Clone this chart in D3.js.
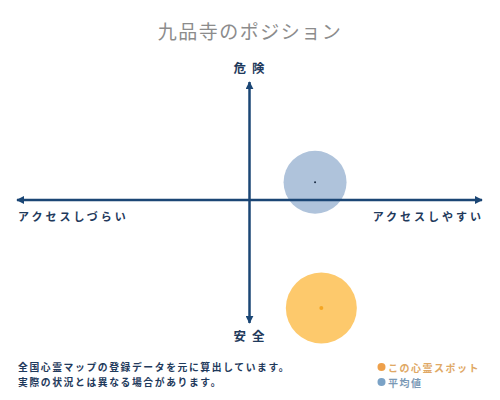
<!DOCTYPE html>
<html><head><meta charset="utf-8">
<script src="https://cdn.jsdelivr.net/npm/d3@7"></script>
<style>
html,body{margin:0;padding:0;background:#fff;}
svg{display:block;}
text{font-family:"Noto Sans CJK JP","Noto Sans",sans-serif;}
</style></head>
<body>
<script>
// ---- data ----
const title = "九品寺のポジション";
const axisLabels = {top:"危険", bottom:"安全", left:"アクセスしづらい", right:"アクセスしやすい"};
const seriesNames = ["この心霊スポット", "平均値"];
// access (x: -100 hard .. 100 easy), danger (y: -100 safe .. 100 dangerous)
const accessValues = [30.9, 28.2];
const dangerValues = [-90, 14.8];
const notes = ["全国心霊マップの登録データを元に算出しています。", "実際の状況とは異なる場合があります。"];

// ---- layout ----
const W = 500, H = 400;
const svg = d3.select("body").append("svg").attr("width", W).attr("height", H);
svg.append("rect").attr("width", W).attr("height", H).attr("fill", "#fff");

const cx = 249.5, cy = 200;
const x = d3.scaleLinear().domain([-100, 100]).range([cx - 232.5, cx + 232.5]);
const y = d3.scaleLinear().domain([-100, 100]).range([cy + 120, cy - 120]);

const navy = "#1b4675";
const fills = ["#fdc96c", "#afc3db"];
const dotFills = ["#f5a623", "#1b2c44"];
const radii = [35.5, 31.5];
const legendDot = ["#eea04a", "#7aa2c6"];
const legendText = ["#e0a865", "#7b99b6"];

// title
svg.append("text").attr("x", 250).attr("y", 30).attr("text-anchor", "middle")
  .attr("dominant-baseline", "central").attr("font-size", 19).attr("letter-spacing", 1.5)
  .attr("fill", "#8c8c8c").text(title);

// circles (average first, underneath)
const order = [1, 0];
const g = svg.append("g");
order.forEach(i => {
  g.append("circle").attr("cx", x(accessValues[i])).attr("cy", y(dangerValues[i]))
    .attr("r", radii[i]).attr("fill", fills[i]);
});

// axes
const defs = svg.append("defs");
defs.append("marker").attr("id", "arr").attr("viewBox", "0 0 10 10").attr("refX", 9).attr("refY", 5)
  .attr("markerWidth", 3.2).attr("markerHeight", 3.2).attr("orient", "auto-start-reverse")
  .attr("markerUnits", "strokeWidth")
  .append("path").attr("d", "M0,0 L10,5 L0,10 z").attr("fill", navy);

svg.append("line").attr("x1", x(-100)).attr("x2", x(100)).attr("y1", cy).attr("y2", cy)
  .attr("stroke", navy).attr("stroke-width", 2.5)
  .attr("marker-start", "url(#arr)").attr("marker-end", "url(#arr)");
svg.append("line").attr("x1", cx).attr("x2", cx).attr("y1", y(100) + 2).attr("y2", y(-100) + 3)
  .attr("stroke", navy).attr("stroke-width", 2.5)
  .attr("marker-start", "url(#arr)").attr("marker-end", "url(#arr)");

// center dots on top of axes
order.forEach(i => {
  svg.append("circle").attr("cx", x(accessValues[i])).attr("cy", y(dangerValues[i]))
    .attr("r", i === 0 ? 2 : 1).attr("fill", dotFills[i]);
});

// axis labels
const lab = (t, px, py, anchor, size, ls) => svg.append("text").attr("x", px).attr("y", py)
  .attr("text-anchor", anchor).attr("dominant-baseline", "central")
  .attr("font-size", size).attr("font-weight", "bold").attr("letter-spacing", ls)
  .attr("fill", "#1f3a5c").text(t);
lab(axisLabels.top, 252, 67, "middle", 12.5, 6);
lab(axisLabels.bottom, 252, 335, "middle", 12.5, 6);
lab(axisLabels.left, 18, 216, "start", 11, 3);
lab(axisLabels.right, 484, 216, "end", 11, 3);

// notes
notes.forEach((t, i) => {
  svg.append("text").attr("x", 18).attr("y", 367 + i * 15).attr("dominant-baseline", "central")
    .attr("font-size", 9.8).attr("font-weight", "bold").attr("letter-spacing", 1.6)
    .attr("fill", "#1f3a5c").text(t);
});

// legend
seriesNames.forEach((t, i) => {
  const ly = 367 + i * 15;
  svg.append("circle").attr("cx", 381.5).attr("cy", ly).attr("r", 4).attr("fill", legendDot[i]);
  svg.append("text").attr("x", 388).attr("y", ly).attr("dominant-baseline", "central")
    .attr("font-size", 10).attr("font-weight", "bold").attr("letter-spacing", 1.5)
    .attr("fill", legendText[i]).text(t);
});
</script>
</body></html>
